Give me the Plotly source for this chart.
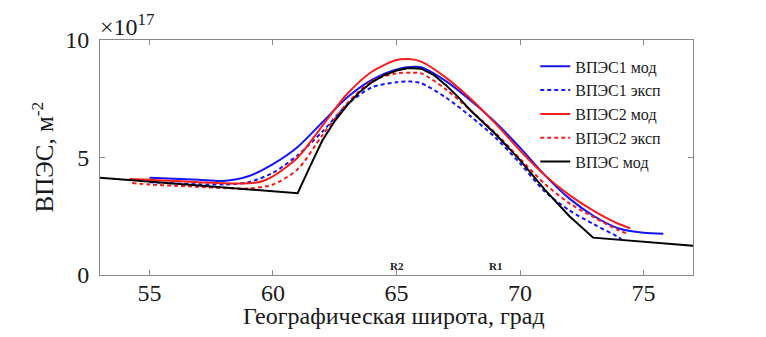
import plotly.graph_objects as go

# Latitude (deg) and TEC values (units of 1e17 m^-2)
lat_b1_mod = [55.0, 56, 57, 58, 59, 60, 61, 62, 63, 64, 65, 65.7, 66, 67, 68, 69, 70, 71, 72, 73, 74, 75, 75.8]
val_b1_mod = [4.14, 4.10, 4.05, 4.00, 4.20, 4.72, 5.45, 6.50, 7.55, 8.30, 8.75, 8.86, 8.84, 8.25, 7.43, 6.50, 5.42, 4.25, 3.25, 2.50, 1.98, 1.80, 1.76]

lat_b1_exp = [55.0, 56, 57, 58, 59, 60, 61, 62, 63, 64, 65, 65.6, 66, 67, 68, 69, 70, 71, 72, 73, 74, 74.1]
val_b1_exp = [3.95, 3.90, 3.86, 3.85, 3.95, 4.35, 5.10, 6.10, 7.25, 7.98, 8.20, 8.23, 8.16, 7.55, 6.75, 5.85, 4.75, 3.55, 2.75, 2.15, 1.60, 1.52]

lat_b2_mod = [54.2, 55, 56, 57, 58, 59, 59.5, 60, 61, 62, 63, 64, 65, 65.5, 66, 67, 68, 69, 70, 71, 72, 73, 74, 74.46]
val_b2_mod = [4.08, 4.05, 4.00, 3.95, 3.90, 3.90, 3.97, 4.20, 5.00, 6.35, 7.70, 8.65, 9.15, 9.19, 9.08, 8.40, 7.50, 6.45, 5.30, 4.25, 3.40, 2.72, 2.17, 1.99]

lat_b2_exp = [54.3, 55, 56, 57, 58, 59, 60, 61, 62, 63, 64, 65, 65.6, 66, 67, 68, 69, 70, 71, 72, 73, 74, 74.4]
val_b2_exp = [3.91, 3.85, 3.80, 3.75, 3.70, 3.68, 3.85, 4.50, 5.95, 7.30, 8.25, 8.58, 8.61, 8.58, 7.90, 7.00, 6.05, 4.95, 3.88, 3.05, 2.45, 1.90, 1.74]

lat_mod = [53.0, 61.0, 61.5, 62.0, 62.5, 63.0, 63.5, 64.0, 64.5, 65.0, 65.5, 66.0, 66.5, 67.0, 67.5, 68.0, 69.0, 70.0, 71.0, 72.0, 72.96, 77.0]
val_mod = [4.14, 3.48, 4.62, 5.72, 6.55, 7.22, 7.78, 8.20, 8.50, 8.70, 8.81, 8.78, 8.52, 8.08, 7.57, 7.00, 6.00, 4.89, 3.63, 2.50, 1.59, 1.25]

x_ticks = [55, 60, 65, 70, 75]
y_ticks = [0, 5, 10]
y_ticklabels = ["0", "5", "10"]
marker_labels = ["R2", "R1"]
marker_lats = [65, 69]

SERIF = "Liberation Serif"
TXT = "#1a1a1a"
BLUE = "#1515f5"
RED = "#f51c1c"
DASH = "4px,3px"

fig = go.Figure()
fig.add_trace(go.Scatter(x=lat_b1_mod, y=val_b1_mod, mode="lines", name="ВПЭС1 мод",
                         line=dict(color=BLUE, width=2, shape="spline", smoothing=0.8)))
fig.add_trace(go.Scatter(x=lat_b1_exp, y=val_b1_exp, mode="lines", name="ВПЭС1 эксп",
                         line=dict(color=BLUE, width=2, dash=DASH, shape="spline", smoothing=0.8)))
fig.add_trace(go.Scatter(x=lat_b2_mod, y=val_b2_mod, mode="lines", name="ВПЭС2 мод",
                         line=dict(color=RED, width=2, shape="spline", smoothing=0.8)))
fig.add_trace(go.Scatter(x=lat_b2_exp, y=val_b2_exp, mode="lines", name="ВПЭС2 эксп",
                         line=dict(color=RED, width=2, dash=DASH, shape="spline", smoothing=0.8)))
fig.add_trace(go.Scatter(x=lat_mod, y=val_mod, mode="lines", name="ВПЭС мод",
                         line=dict(color="black", width=2, shape="linear")))

for lbl, la in zip(marker_labels, marker_lats):
    fig.add_annotation(x=la, y=0.38, xref="x", yref="y", text="<b>" + lbl + "</b>",
                       showarrow=False, font=dict(family=SERIF, size=11, color=TXT),
                       xanchor="center", yanchor="middle")

fig.add_annotation(x=0, y=1, xref="paper", yref="paper", text="×10<sup>17</sup>",
                   showarrow=False, xanchor="left", yanchor="bottom", xshift=-2, yshift=-2,
                   font=dict(family=SERIF, size=24, color=TXT))

# axis titles as annotations for precise placement
fig.add_annotation(x=0.496, y=0, xref="paper", yref="paper", text="Географическая широта, град",
                   showarrow=False, xanchor="center", yanchor="middle", yshift=-41,
                   font=dict(family=SERIF, size=24, color=TXT))
fig.add_annotation(x=0, y=0.5, xref="paper", yref="paper", text="ВПЭС, м<sup>-2</sup>",
                   showarrow=False, xanchor="center", yanchor="middle", xshift=-58, textangle=-90,
                   font=dict(family=SERIF, size=25, color=TXT))

# page body has an 8px margin, so the figure is sized/offset to compensate
fig.update_layout(
    width=758, height=329,
    margin=dict(l=92, r=73, t=32, b=62),
    paper_bgcolor="white", plot_bgcolor="white",
    font=dict(family=SERIF, size=24, color=TXT),
    showlegend=True,
    legend=dict(x=0.734, y=0.96, xanchor="left", yanchor="top",
                bgcolor="rgba(255,255,255,0)", borderwidth=0,
                font=dict(family=SERIF, size=16, color=TXT),
                tracegroupgap=0, itemwidth=30),
    xaxis=dict(range=[53, 77], tickvals=x_ticks, ticks="inside", ticklen=5,
               tickcolor="#888", showline=True, linecolor="#888", linewidth=1,
               mirror="ticks", showgrid=False, zeroline=False, automargin=False,
               ticklabelstandoff=-4,
               tickfont=dict(family=SERIF, size=24, color=TXT)),
    yaxis=dict(range=[0, 10], tickvals=y_ticks, ticktext=y_ticklabels, ticks="inside",
               ticklen=5, tickcolor="#888", showline=True, linecolor="#888", linewidth=1,
               mirror="ticks", showgrid=False, zeroline=False, automargin=False,
               ticklabelstandoff=5,
               tickfont=dict(family=SERIF, size=24, color=TXT)),
)

fig.write_html("out.html")
